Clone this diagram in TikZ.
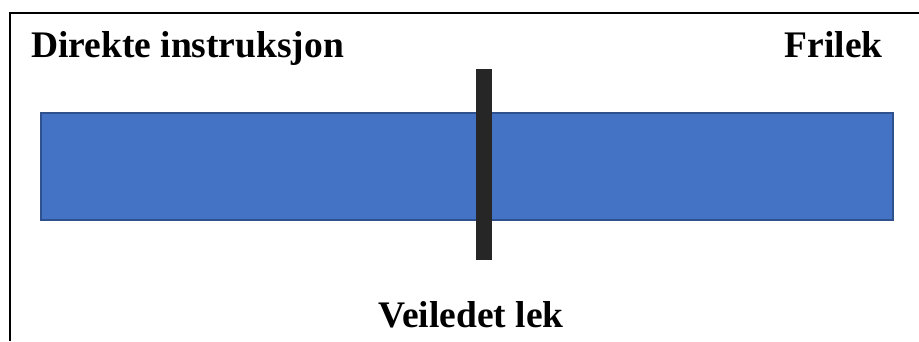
\documentclass[tikz,border=0pt]{standalone}
\usepackage{fontspec}
\setmainfont{Liberation Serif}
\definecolor{barfill}{HTML}{4472C4}
\definecolor{baredge}{HTML}{2F528F}
\definecolor{marker}{HTML}{262626}
\begin{document}
\begin{tikzpicture}[x=1pt,y=-1pt,
  label/.style={inner sep=0pt,font=\bfseries\fontsize{37.5}{42}\selectfont}]
\useasboundingbox (0,0) rectangle (919,341);
% outer frame (open to the right and bottom)
\draw[line width=1.4pt] (919,13) -- (10,13) -- (10,341);
% the scale bar
\draw[fill=barfill,draw=baredge,line width=2pt] (41,113) rectangle (893,220);
% the marker across the bar
\fill[marker] (476,69) rectangle (492,260);
% end and middle labels
\node[label,anchor=base west] (left) at (31,57) {Direkte instruksjon};
\node[label,anchor=base east] (right) at (883,57) {Frilek};
\node[label,anchor=base] (mid) at (471,327) {Veiledet lek};
\end{tikzpicture}
\end{document}
